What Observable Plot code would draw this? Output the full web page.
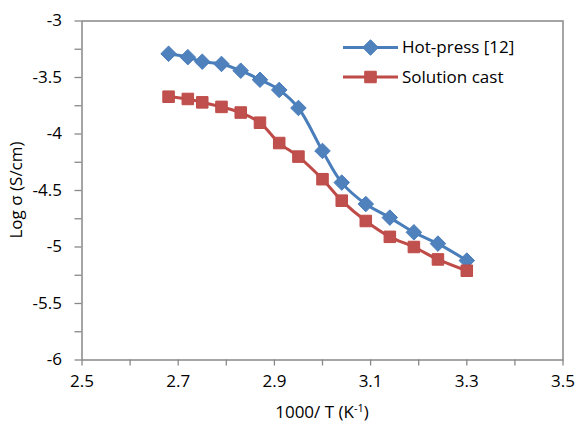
<!DOCTYPE html>
<html>
<head>
<meta charset="utf-8">
<script src="https://cdn.jsdelivr.net/npm/d3@7"></script>
<script src="https://cdn.jsdelivr.net/npm/@observablehq/plot@0.6"></script>
<style>
  html, body { margin: 0; padding: 0; background: #fff; }
  #chart { width: 577px; height: 426px; }
</style>
</head>
<body>
<div id="chart"></div>
<script>
const xVals = [2.68, 2.72, 2.75, 2.79, 2.83, 2.87, 2.91, 2.95, 3.00, 3.04, 3.09, 3.14, 3.19, 3.24, 3.30];
const hotPress = [-3.29, -3.32, -3.36, -3.38, -3.44, -3.52, -3.61, -3.77, -4.15, -4.43, -4.62, -4.74, -4.87, -4.97, -5.12];
const solutionCast = [-3.67, -3.69, -3.72, -3.76, -3.81, -3.90, -4.08, -4.20, -4.40, -4.59, -4.77, -4.91, -5.00, -5.11, -5.21];
const seriesNames = ["Hot-press [12]", "Solution cast"];
const xTicks = d3.range(25, 36).map(k => k / 10);
const yTicks = d3.range(-24, -11).map(k => k / 4);

const blue = "#4A7EBB", blueFill = "#4F81BD";
const red = "#BE4B48", redFill = "#C0504D";
const FONT = "'Open Sans', Lato, sans-serif";
const FS = 17;

const hp = xVals.map((x, i) => ({x, y: hotPress[i]}));
const sc = xVals.map((x, i) => ({x, y: solutionCast[i]}));

const fmtY = d => Math.abs(d * 2 - Math.round(d * 2)) < 1e-9 ? String(+d.toFixed(2)) : "";
const fmtX = d => Math.round(d * 10 - 25) % 2 === 0 ? d.toFixed(1) : "";

const svg = Plot.plot({
  width: 577,
  height: 426,
  marginLeft: 81.5,
  marginRight: 14.5,
  marginTop: 20.5,
  marginBottom: 66.5,
  style: {fontFamily: FONT, fontSize: FS + "px", background: "#fff", color: "#000"},
  x: {domain: [2.5, 3.5]},
  y: {domain: [-6, -3]},
  marks: [
    Plot.axisX({ticks: xTicks, tickFormat: fmtX, tickSize: 6, tickPadding: 9, stroke: "#888", strokeWidth: 1.3, fill: "#000", label: null, fontSize: FS}),
    Plot.axisY({ticks: yTicks, tickFormat: fmtY, tickSize: 7, tickPadding: 13, stroke: "#888", strokeWidth: 1.3, fill: "#000", label: null, fontSize: FS}),
    Plot.frame({stroke: "#888", strokeWidth: 1.5}),
    Plot.line(hp, {x: "x", y: "y", stroke: blue, strokeWidth: 3, curve: "catmull-rom"}),
    Plot.dot(hp, {x: "x", y: "y", symbol: "diamond2", r: 7, fill: blueFill, stroke: blue, strokeWidth: 1}),
    Plot.line(sc, {x: "x", y: "y", stroke: red, strokeWidth: 3, curve: "catmull-rom"}),
    Plot.dot(sc, {x: "x", y: "y", symbol: "square", r: 6.5, fill: redFill, stroke: red, strokeWidth: 1})
  ]
});

const s = d3.select(svg);
// Axis titles
const xt = s.append("text").attr("x", 322).attr("y", 418).attr("text-anchor", "middle")
  .attr("font-size", FS).attr("fill", "#000");
xt.append("tspan").text("1000/ T (K");
xt.append("tspan").attr("font-size", 11).attr("dy", -6).text("-1");
xt.append("tspan").attr("dy", 6).text(")");
s.append("text").attr("transform", "translate(22,190) rotate(-90)").attr("text-anchor", "middle")
  .attr("font-size", FS).attr("fill", "#000").text("Log σ (S/cm)");

// Legend
const lg = s.append("g");
const rows = [
  {name: seriesNames[0], y: 47.5, stroke: blue, fill: blueFill, sym: d3.symbolDiamond2},
  {name: seriesNames[1], y: 77, stroke: red, fill: redFill, sym: d3.symbolSquare}
];
rows.forEach(r => {
  lg.append("line").attr("x1", 343).attr("x2", 398).attr("y1", r.y).attr("y2", r.y)
    .attr("stroke", r.stroke).attr("stroke-width", 3);
  const size = r.sym === d3.symbolSquare ? Math.PI * 6.5 * 6.5 : Math.PI * 7 * 7;
  lg.append("path").attr("d", d3.symbol(r.sym, size)()).attr("transform", `translate(370.5,${r.y})`)
    .attr("fill", r.fill).attr("stroke", r.stroke);
  lg.append("text").attr("x", 402).attr("y", r.y).attr("dy", "0.35em").attr("font-size", FS)
    .attr("text-anchor", "start").attr("fill", "#000").text(r.name);
});

document.getElementById("chart").appendChild(svg);
</script>
</body>
</html>
